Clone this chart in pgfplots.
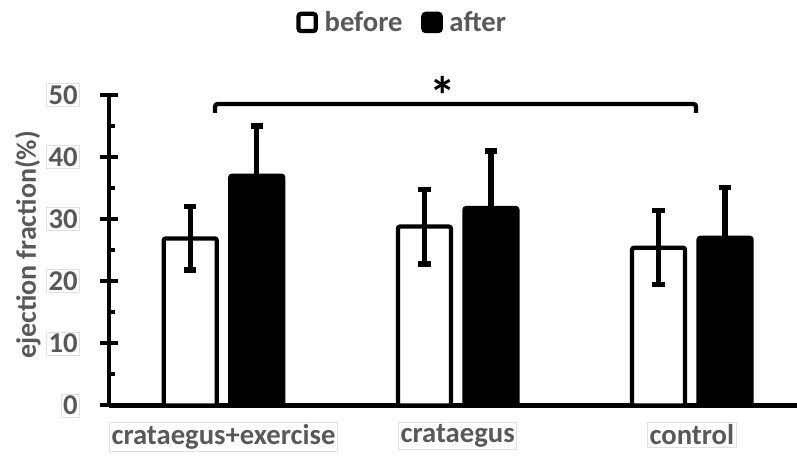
\documentclass[border=0pt]{standalone}
\usepackage{fontspec}
\setmainfont{Carlito}
\usepackage{pgfplots}
\pgfplotsset{compat=1.18}
\definecolor{txt}{HTML}{595959}
\pgfplotstableread{
x       y     e
-0.142  26.9  5.1
0.858   28.8  6.0
1.858   25.4  5.95
}\before
\pgfplotstableread{
x       y     e
0.142   37.0  8.0
1.142   31.8  9.2
2.142   27.0  8.1
}\after
\begin{document}
\begin{tikzpicture}
\useasboundingbox (-81.75pt,-41.6pt) rectangle (516pt,304.1pt);
\begin{axis}[
  scale only axis, width=516pt, height=232.9pt,
  xmin=-0.489, xmax=2.449, ymin=0, ymax=50,
  axis x line=bottom, axis y line=left,
  axis line style={-, line width=3.2pt, black},
  xtick={0,1,2}, xticklabels={crataegus+exercise,crataegus,control},
  major x tick style={draw=none},
  ytick={0,10,...,50}, minor y tick num=1,
  tick align=center, major tick length=13.5pt, minor tick length=4.5pt,
  every tick/.style={black, line width=3pt},
  minor y tick style={xshift=2.25pt},
  /pgf/number format/assume math mode=true,
  tick label style={font=\bfseries\fontsize{21.5}{21.5}\selectfont, text=txt, fill=white, draw=black!12, line width=0.5pt, inner sep=1.5pt},
  xticklabel style={anchor=north, yshift=-6pt},
  yticklabel style={anchor=east, xshift=-15pt},
  ylabel={ejection fraction(\%)},
  ylabel style={at={(axis description cs:-0.118,0.517)}, anchor=center, font=\bfseries\fontsize{21}{21}\selectfont, text=txt},
  legend style={at={(axis description cs:0.4266,1.2335)}, anchor=center, draw=none, fill=none,
    font=\bfseries\fontsize{21.5}{21.5}\selectfont, text=txt,
    /tikz/every odd column/.append style={column sep=3pt},
    /tikz/every even column/.append style={column sep=12pt},
    nodes={inner sep=2pt}},
  legend columns=2,
  clip=false,
]
\addplot[ybar, bar width=0.2263, bar shift=0pt, fill=white, draw=black, line width=3.2pt, rounded corners=1.5pt,
  legend image code/.code={\draw[line width=3.2pt, rounded corners=2pt, fill=white, draw=black] (-4pt,-6.5pt) rectangle (9pt,6.5pt);},
  error bars/.cd, y dir=both, y explicit,
  error bar style={line width=4pt, black, rounded corners=0pt},
  error mark options={line width=4pt, mark size=4.6pt, black, rotate=90}]
  table[x=x, y=y, y error=e] {\before};
\addlegendentry{before}
\addplot[ybar, bar width=0.2263, bar shift=0pt, fill=black, draw=black, line width=3.2pt, rounded corners=1.5pt,
  legend image code/.code={\draw[line width=3.2pt, rounded corners=2pt, fill=black, draw=black] (-4pt,-6.5pt) rectangle (9pt,6.5pt);},
  error bars/.cd, y dir=both, y explicit,
  error bar style={line width=4pt, black, rounded corners=0pt},
  error mark options={line width=4pt, mark size=4.6pt, black, rotate=90}]
  table[x=x, y=y, y error=e] {\after};
\addlegendentry{after}
\draw[line width=3.2pt, rounded corners=2pt] (axis cs:-0.036,47.1) |- (axis cs:2.018,48.55) -- (axis cs:2.018,47.1);
\node[font=\bfseries\fontsize{40}{40}\selectfont, anchor=center] at (axis cs:0.937,49.85) {*};
\end{axis}
\end{tikzpicture}
\end{document}
